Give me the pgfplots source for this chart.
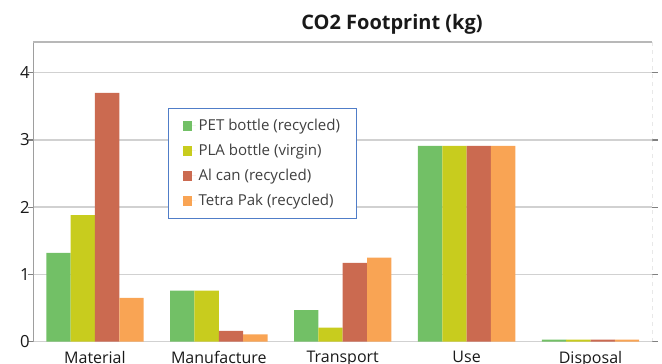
\documentclass[border=0pt]{standalone}
\usepackage{fontspec}
\setmainfont{Open Sans}
\usepackage{pgfplots}
\usetikzlibrary{calc}
\pgfplotsset{compat=1.18}
\definecolor{cgreen}{RGB}{114,192,102}
\definecolor{cyellow}{RGB}{200,204,30}
\definecolor{cred}{RGB}{203,106,80}
\definecolor{corange}{RGB}{249,164,84}
\definecolor{legblue}{RGB}{80,125,200}
\begin{document}
\begin{tikzpicture}[x=0.75pt,y=0.75pt]
\begin{axis}[
  name=ax,
  scale only axis, width=464.6pt, height=225pt,
  xmin=-0.5, xmax=4.5, ymin=0, ymax=4.46,
  axis line style={draw=none},
  ybar, bar width=0.1965,
  xtick={0,1,2,3,4},
  xticklabels={Material,Manufacture,Transport,Use,Disposal},
  ytick={0,1,2,3,4},
  ymajorgrids, grid style={draw=black!18, line width=1.1pt},
  x tick style={draw=none},
  y tick style={draw=black!50, line width=0.9pt},
  tick align=outside, major tick length=4pt,
  ticklabel style={text=black!90},
  /pgf/number format/assume math mode=true,
  yticklabel style={font=\fontsize{12.5}{14}\selectfont, xshift=5pt},
  xticklabel style={font=\fontsize{12}{14}\selectfont, yshift=0.5pt},
  legend cell align=left,
  legend image code/.code={\fill[#1,draw=none] (0pt,-3.7pt) rectangle (7.4pt,3.7pt); \path (0pt,0pt) -- (10pt,0pt);},
  legend style={at={(0.218,0.779)}, anchor=north west, draw=legblue, line width=0.8pt,
    font=\fontsize{11.3}{13}\selectfont, text=black!75, inner xsep=10.5pt, inner ysep=6pt,
    row sep=4.6pt, fill=white},
]
\addplot[fill=cgreen, draw=none, bar shift=-0.29475] coordinates {(0,1.32) (1,0.76) (2,0.47) (3,2.91) (4,0.03)};
\addplot[fill=cyellow, draw=none, bar shift=-0.09825] coordinates {(0,1.88) (1,0.76) (2,0.21) (3,2.91) (4,0.03)};
\addplot[fill=cred, draw=none, bar shift=0.09825] coordinates {(0,3.70) (1,0.16) (2,1.17) (3,2.91) (4,0.03)};
\addplot[fill=corange, draw=none, bar shift=0.29475] coordinates {(0,0.65) (1,0.11) (2,1.25) (3,2.91) (4,0.03)};
\legend{PET bottle (recycled),PLA bottle (virgin),Al can (recycled),Tetra Pak (recycled)}
\draw[black!38, line width=1.1pt] (rel axis cs:0,0) -- (rel axis cs:0,1);
\draw[black!28, line width=1.6pt] (rel axis cs:0,1) -- (rel axis cs:1,1);
\draw[black!25, dashed, line width=0.5pt] (rel axis cs:1,0) -- (rel axis cs:1,1);
\coordinate (O) at (rel axis cs:0,0);
\end{axis}
\node[font=\bfseries\fontsize{15}{17}\selectfont, text=black!90] at ($(O)+(359,317)$) {CO2 Footprint (kg)};
\pgfresetboundingbox
\path[use as bounding box] ($(O)+(-33,-22.3)$) rectangle ++(662,364);
\end{tikzpicture}
\end{document}
